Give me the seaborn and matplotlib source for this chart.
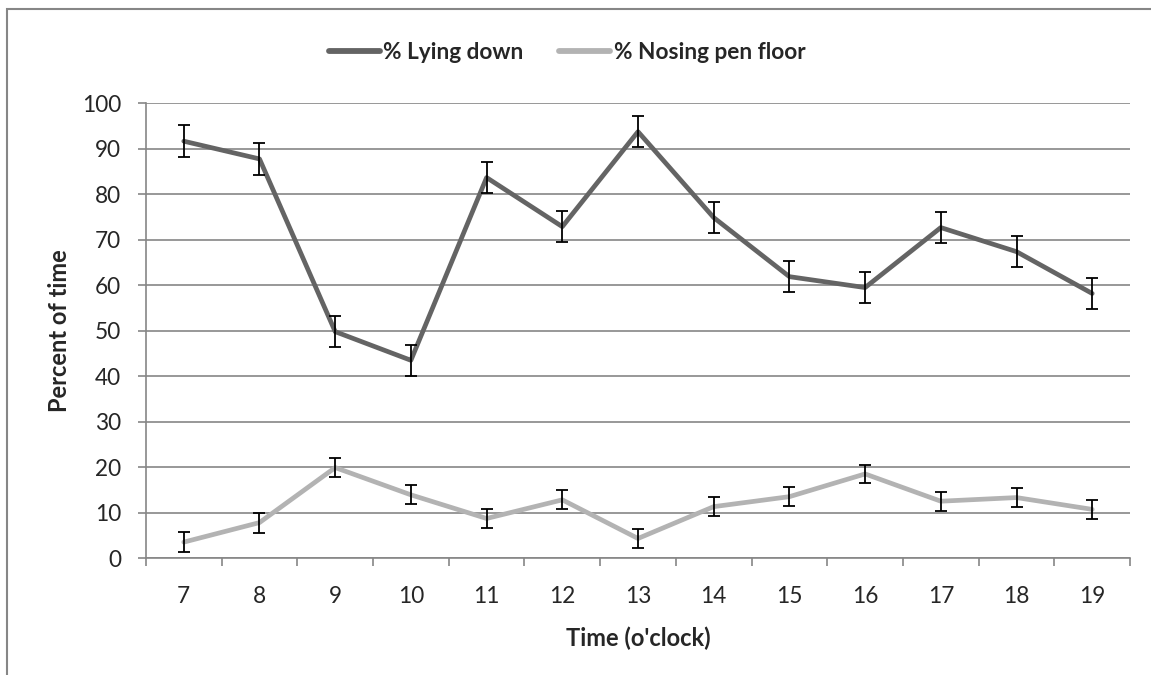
import matplotlib
matplotlib.use("Agg")
import matplotlib.pyplot as plt
import seaborn as sns
import pandas as pd
from matplotlib.patches import Rectangle
from matplotlib.ticker import FixedLocator

hours = [7, 8, 9, 10, 11, 12, 13, 14, 15, 16, 17, 18, 19]
lying = [91.7, 87.8, 49.8, 43.5, 83.7, 72.9, 93.8, 74.9, 61.9, 59.5, 72.7, 67.4, 58.2]
lying_err = [3.5, 3.5, 3.4, 3.4, 3.4, 3.4, 3.4, 3.4, 3.4, 3.4, 3.4, 3.4, 3.4]
nosing = [3.5, 7.8, 19.9, 13.9, 8.7, 12.8, 4.3, 11.3, 13.5, 18.5, 12.5, 13.3, 10.7]
nosing_err = [2.2, 2.2, 2.1, 2.1, 2.1, 2.1, 2.1, 2.1, 2.1, 2.0, 2.1, 2.1, 2.1]

series_names = ["% Lying down", "% Nosing pen floor"]
colors = ["#646464", "#b3b3b3"]

df = pd.DataFrame({
    "hour": hours * 2,
    "value": lying + nosing,
    "series": [series_names[0]] * len(hours) + [series_names[1]] * len(hours),
})

sns.set_style("white")
plt.rcParams["font.family"] = ["Lato", "DejaVu Sans"]
grid_c = "#868686"
fs = 16.3

fig = plt.figure(figsize=(11.51, 6.75), dpi=100)
ax = fig.add_axes([0.1268, 0.1733, 0.855, 0.6734])

sns.lineplot(data=df, x="hour", y="value", hue="series", palette=colors,
             linewidth=3.4, ax=ax, legend=False, zorder=3)
ax.errorbar(hours, lying, yerr=lying_err, fmt="none", ecolor="black",
            elinewidth=1.3, capsize=4.3, capthick=1.3, zorder=4)
ax.errorbar(hours, nosing, yerr=nosing_err, fmt="none", ecolor="black",
            elinewidth=1.3, capsize=4.3, capthick=1.3, zorder=4)

ax.set_xlim(6.5, 19.5)
ax.set_ylim(0, 100)
ax.set_yticks(range(0, 101, 10))
ax.set_xticks(hours)
ax.xaxis.set_minor_locator(FixedLocator([h - 0.5 for h in hours] + [19.5]))
ax.yaxis.grid(True, color=grid_c, linewidth=1.2)
ax.set_axisbelow(True)
for s in ["top", "right"]:
    ax.spines[s].set_visible(False)
for s in ["left", "bottom"]:
    ax.spines[s].set_color(grid_c)
    ax.spines[s].set_linewidth(1.2)

ax.tick_params(axis="y", which="major", direction="out", length=6, width=1.2,
               color=grid_c, left=True, labelsize=fs, pad=12)
ax.tick_params(axis="x", which="major", length=0, labelsize=fs, pad=20)
ax.tick_params(axis="x", which="minor", direction="out", length=6, width=1.2,
               color=grid_c, bottom=True)

ax.set_xlabel("Time (o'clock)", fontsize=fs + 0.7, fontweight="bold", labelpad=14)
ax.set_ylabel("Percent of time", fontsize=fs + 0.7, fontweight="bold", labelpad=8)

handles = [plt.Line2D([], [], color=c, linewidth=4.2, solid_capstyle="round") for c in colors]
fig.legend(handles, series_names, loc="center", bbox_to_anchor=(0.4926, 0.922),
           ncol=2, frameon=False, handlelength=2.25, handletextpad=0.15,
           columnspacing=1.6, prop={"weight": "bold", "size": fs})

fig.patches.append(Rectangle((7 / 1151, -0.1), 1.2, 1.1 - 9 / 675,
                             transform=fig.transFigure, fill=False,
                             edgecolor=grid_c, linewidth=1.5))

fig.savefig("out.png", dpi=100)
